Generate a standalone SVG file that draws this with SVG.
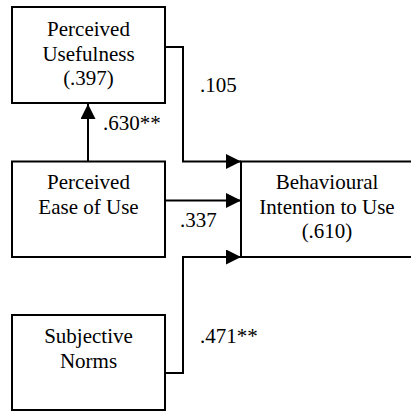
<svg xmlns="http://www.w3.org/2000/svg" width="411" height="411" viewBox="0 0 411 411">
<style>
.box{fill:#fff;stroke:#000;stroke-width:2}
.t{font-family:'Liberation Serif','Times New Roman',Times,'DejaVu Serif',serif;font-size:21px;fill:#000}
.c{text-anchor:middle}
.ln{fill:none;stroke:#000;stroke-width:2}
</style>
<defs>
<marker id="ah" markerUnits="userSpaceOnUse" markerWidth="16" markerHeight="16" refX="15" refY="7.5" orient="auto">
<path d="M0,0 L15,7.5 L0,15 z" fill="#000"/>
</marker>
</defs>
<rect width="411" height="411" fill="#fff"/>
<g id="connectors">
<path class="ln" d="M88,161 V104" marker-end="url(#ah)"/>
<path class="ln" d="M165,47 H183 V161.5 H241" marker-end="url(#ah)"/>
<path class="ln" d="M165,200.5 H241" marker-end="url(#ah)"/>
<path class="ln" d="M165,373 H183 V257 H241" marker-end="url(#ah)"/>
<text class="t" x="200" y="92" font-family="Liberation Serif, serif">.105</text>
<text class="t" x="103" y="130" font-family="Liberation Serif, serif">.630**</text>
<text class="t" x="180" y="227" font-family="Liberation Serif, serif">.337</text>
<text class="t" x="200" y="343" font-family="Liberation Serif, serif">.471**</text>
</g>
<g id="pu">
<rect class="box" x="12" y="7" width="153" height="96"/>
<text class="t c" x="88.5" y="36">Perceived</text>
<text class="t c" x="88.5" y="60.5">Usefulness</text>
<text class="t c" x="88.5" y="85">(.397)</text>
</g>
<g id="peou">
<rect class="box" x="12" y="161.5" width="153" height="95.5"/>
<text class="t c" x="88.5" y="189">Perceived</text>
<text class="t c" x="88.5" y="213.5">Ease of Use</text>
</g>
<g id="bi">
<rect class="box" x="241" y="161.5" width="180" height="95.5"/>
<text class="t c" x="327" y="189">Behavioural</text>
<text class="t c" x="327" y="213.5">Intention to Use</text>
<text class="t c" x="327" y="238">(.610)</text>
</g>
<g id="sn">
<rect class="box" x="12" y="315" width="153" height="95"/>
<text class="t c" x="88.5" y="343">Subjective</text>
<text class="t c" x="88.5" y="368">Norms</text>
</g>
</svg>
